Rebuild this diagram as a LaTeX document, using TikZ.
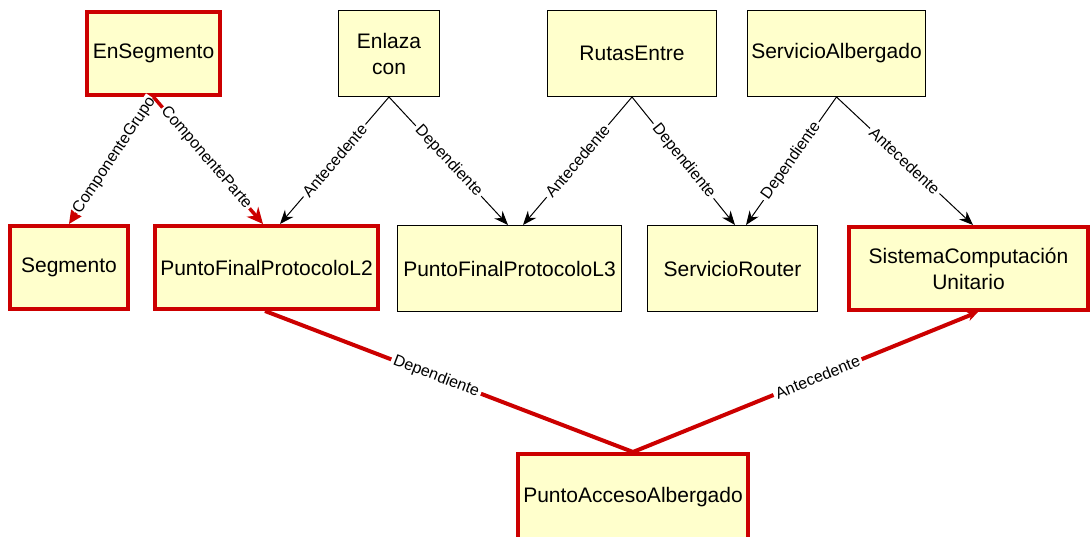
\documentclass[tikz,border=0pt]{standalone}
\usepackage{fontspec}
\setmainfont{Liberation Sans}
\usetikzlibrary{arrows.meta}
\definecolor{boxfill}{HTML}{FFFFCC}
\definecolor{redc}{HTML}{CC0000}
\begin{document}
\begin{tikzpicture}[x=1pt,y=-1pt,
  box/.style={draw=black, line width=1pt, fill=boxfill, font=\fontsize{21}{26}\selectfont, align=center, inner sep=0pt},
  redbox/.style={box, draw=redc, line width=4pt},
  conn/.style={draw=black, line width=1pt, -{Stealth[length=14pt,width=11pt,inset=4.5pt]}},
  redconn/.style={draw=redc, line width=3.5pt},
  redtip/.style={-{Stealth[length=16pt,width=15pt,inset=5pt]}},
  lbl/.style={fill=white, sloped, midway, font=\fontsize{16}{19}\selectfont, inner sep=2.5pt}]
\useasboundingbox (0,0) rectangle (1092,537);
% top row
\node[redbox, minimum width=133pt, minimum height=83pt] (ens) at (153.5,53.5) {EnSegmento};
\node[box, minimum width=101pt, minimum height=86pt] (enl) at (389,53.5) {Enlaza\\con};
\node[box, minimum width=169pt, minimum height=86pt] (rut) at (632,53.5) {RutasEntre};
\node[box, minimum width=178pt, minimum height=86pt] (sa) at (836.5,53.5) {ServicioAlbergado};
% middle row
\node[redbox, minimum width=118pt, minimum height=83pt] (seg) at (69,267.5) {Segmento};
\node[redbox, minimum width=223pt, minimum height=83pt] (l2) at (266.5,267.5) {PuntoFinalProtocoloL2};
\node[box, minimum width=224pt, minimum height=86pt] (l3) at (509.5,268.5) {PuntoFinalProtocoloL3};
\node[box, minimum width=170pt, minimum height=86pt] (sr) at (732.5,268.5) {ServicioRouter};
\node[redbox, minimum width=239pt, minimum height=83pt] (sc) at (968.5,268.5) {SistemaComputación\\Unitario};
% bottom
\node[redbox, minimum width=230pt, minimum height=86pt] (paa) at (633,497) {PuntoAccesoAlbergado};
% connectors
\draw[redconn, redtip] (ens.south) -- (seg.north) node[lbl, pos=0.46, inner sep=1pt]{ComponenteGrupo};
\draw[redconn, redtip] (ens.south) -- ([xshift=-3.5pt]l2.north) node[lbl, pos=0.48, inner sep=1.5pt]{ComponenteParte};
\draw[conn] (enl.south) -- ([xshift=13.5pt]l2.north) node[lbl]{Antecedente};
\draw[conn] (enl.south) -- ([xshift=-1.5pt]l3.north) node[lbl]{Dependiente};
\draw[conn] (rut.south) -- ([xshift=13.5pt]l3.north) node[lbl]{Antecedente};
\draw[conn] (rut.south) -- ([xshift=2.5pt]sr.north) node[lbl]{Dependiente};
\draw[conn] (sa.south) -- ([xshift=13.5pt]sr.north) node[lbl]{Dependiente};
\draw[conn] (sa.south) -- ([xshift=4.5pt]sc.north) node[lbl]{Antecedente};
\draw[redconn, line width=4pt] (paa.north) -- ([xshift=-1.5pt]l2.south) node[lbl, pos=0.535]{Dependiente};
\draw[redconn, line width=4pt, -{Stealth[length=11pt,width=10pt,inset=3.5pt]}] (paa.north) -- ([xshift=9.5pt]sc.south) node[lbl, pos=0.535]{Antecedente};
\end{tikzpicture}
\end{document}
